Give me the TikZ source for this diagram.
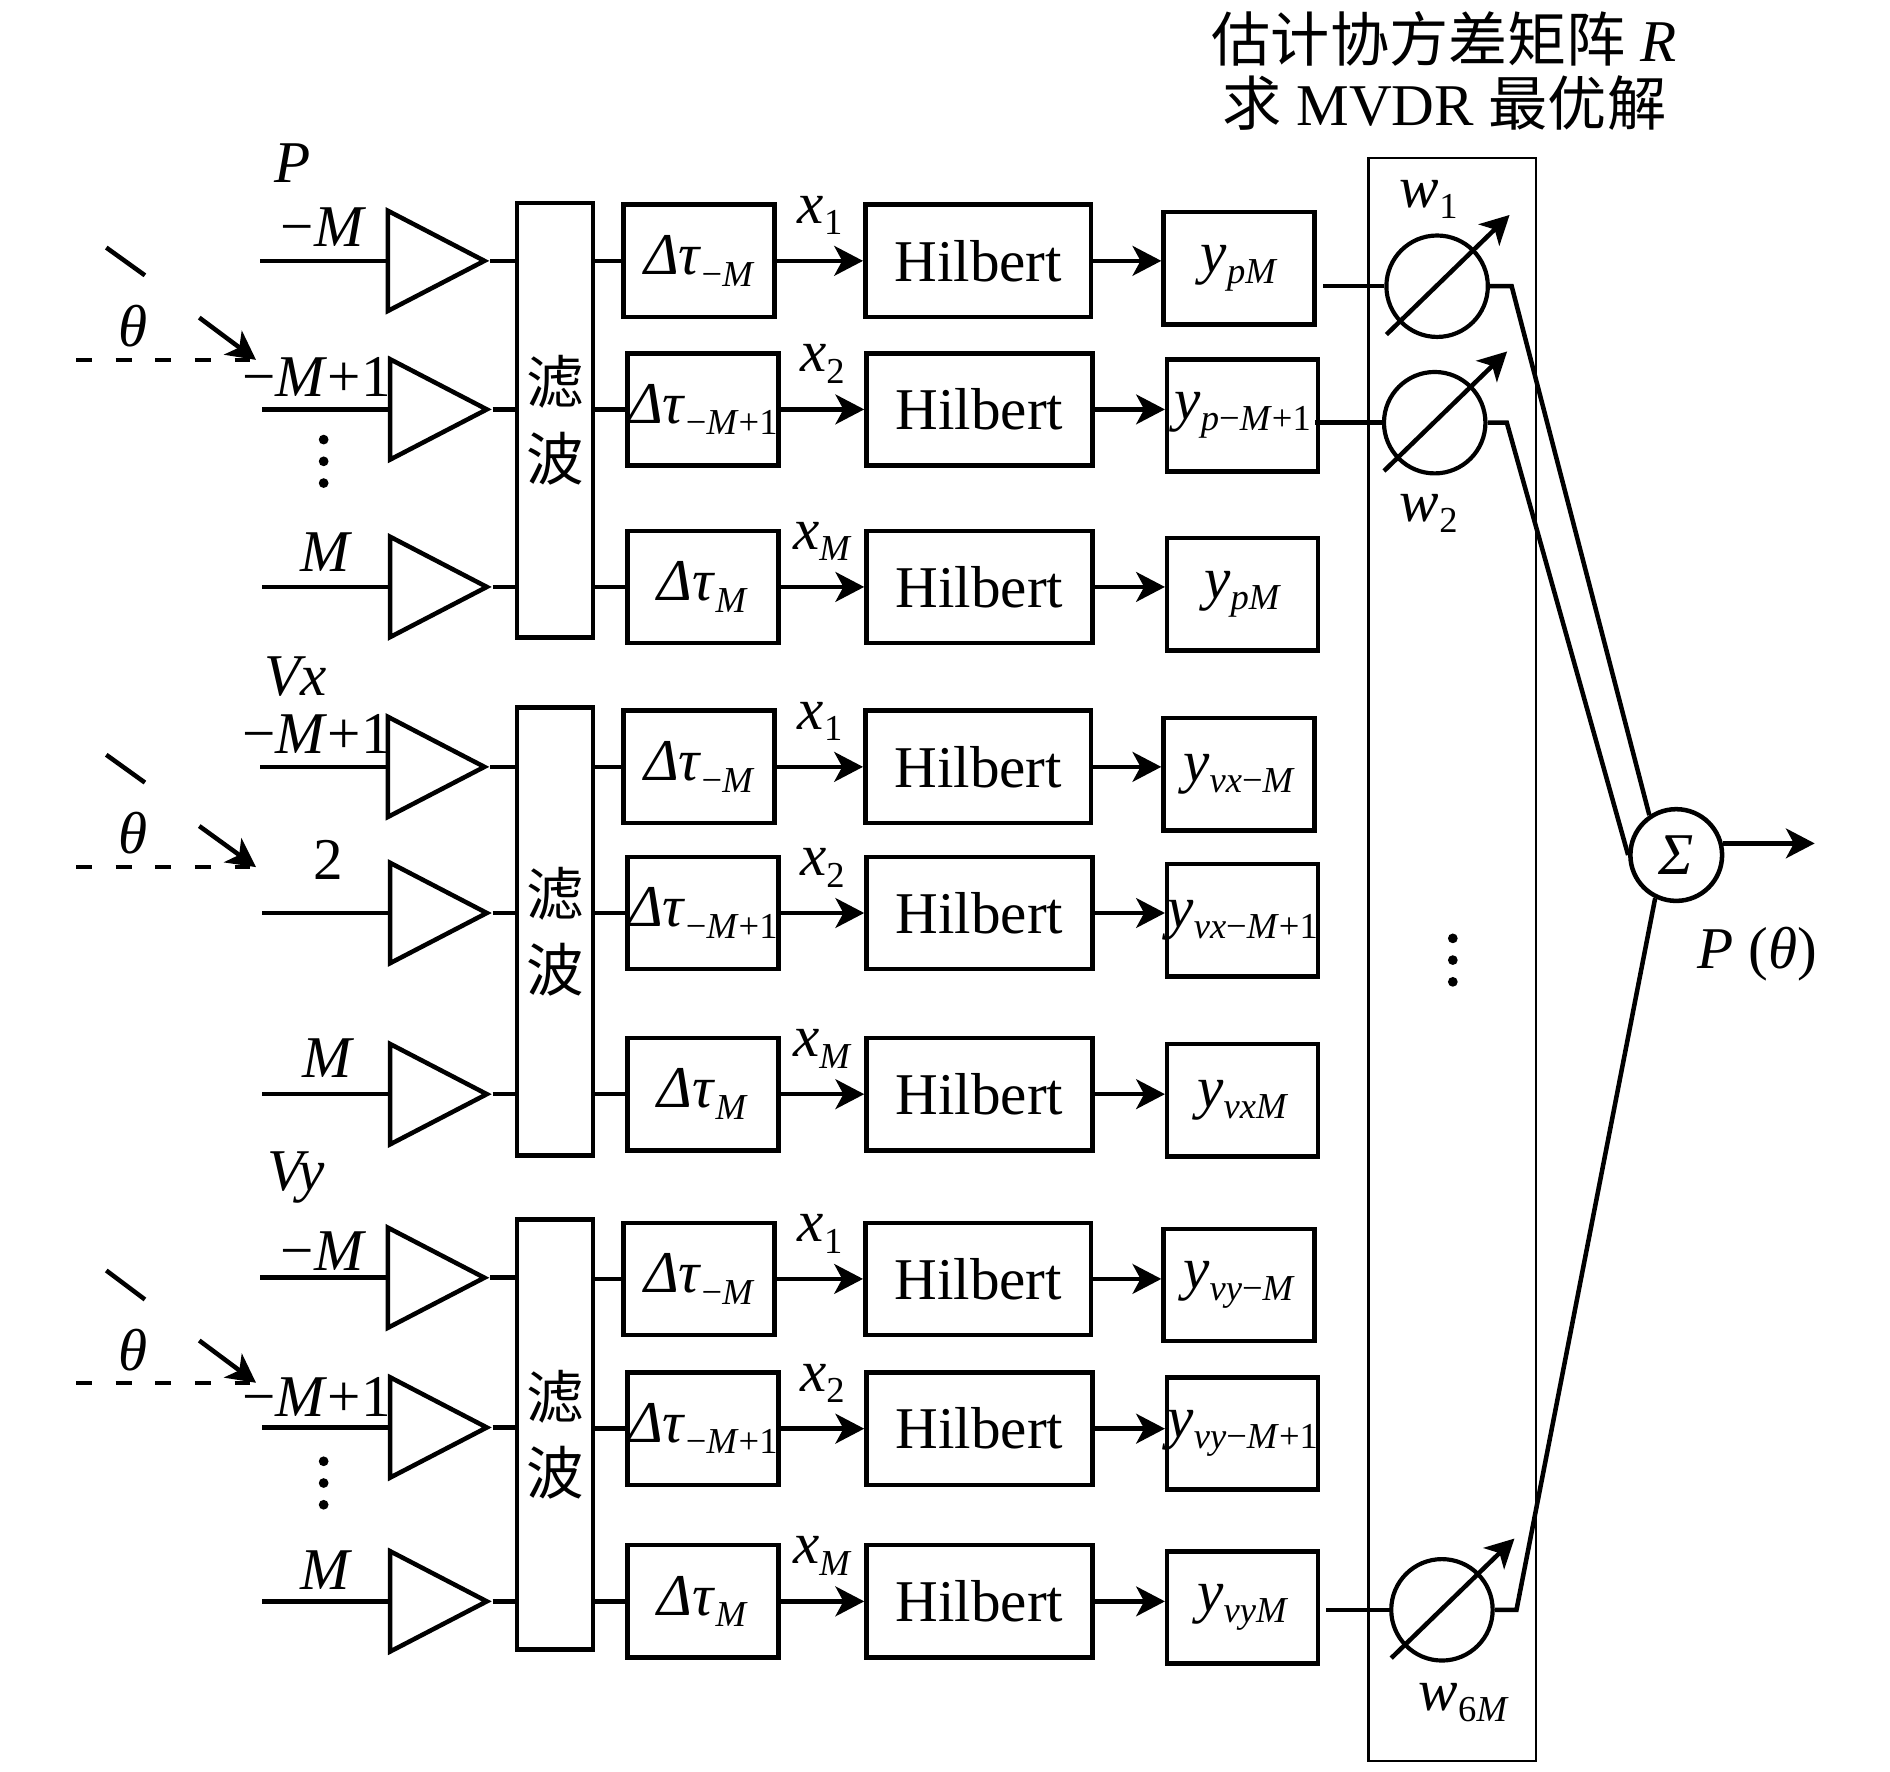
\documentclass[tikz,border=0pt]{standalone}
\usepackage{fontspec}
\setmainfont{Liberation Serif}
\newfontfamily\cjk{Noto Sans CJK SC}
\usepackage{tikz}
\usetikzlibrary{shapes}
\usetikzlibrary{arrows.meta}
\usetikzlibrary{calc}
\newcommand{\ind}[1]{\raisebox{-3.3pt}{\fontsize{10.5}{12}\selectfont #1}}
\tikzstyle{every node}=[font=\fontsize{17}{20}\selectfont]
\tikzstyle{line}=[line width=1.3pt]
\tikzstyle{amp}=[draw,line width=1.3pt,isosceles triangle,isosceles triangle stretches,
        minimum height=0.975cm,minimum width=1.012cm,inner sep=0pt,anchor=apex]
\tikzstyle{filtre}=[draw,line width=1.3pt,rectangle,minimum width=0.768cm,inner sep=0pt,
        font=\cjk\fontsize{16.5}{22}\selectfont,align=center]
\tikzstyle{delai}=[draw,line width=1.3pt,rectangle,minimum width=1.524cm,minimum height=1.134cm,inner sep=0pt]
\tikzstyle{hilb}=[draw,line width=1.3pt,rectangle,minimum width=2.28cm,minimum height=1.134cm,inner sep=0pt]
\tikzstyle{sortie}=[draw,line width=1.3pt,rectangle,minimum width=1.524cm,minimum height=1.134cm,inner sep=0pt]
\tikzstyle{poids}=[draw,line width=1.2pt,circle,minimum size=1.024cm,inner sep=0pt]
\tikzstyle{somme}=[draw,line width=1.3pt,circle,minimum size=0.926cm,inner sep=0pt]
\tikzstyle{suite}=[-{Stealth[length=2.9mm,width=3mm,inset=0.8mm]},line width=1.3pt]
\tikzstyle{pointille}=[line width=1.3pt,dash pattern=on 1.6mm off 2.4mm]

\begin{document}
\begin{tikzpicture}[x=0.01219cm,y=-0.01219cm]
\useasboundingbox (0,0) rectangle (1565,1467);
%Title
\node (t1) at (1196,32) {{\cjk 估计协方差矩阵} \textit{R}};
\node (t2) at (1196,85) {{\cjk 求} MVDR {\cjk 最优解}};
\node[draw,line width=0.75pt,minimum width=1.694cm,minimum height=16.18cm,inner sep=0pt] (est) at (1202.5,794.5) {};
%Group P
\node (lp) at (242,135) {\textit{P}};
\node (lp1) at (268,188) {−\textit{M}};
\node (lp2) at (262,312) {−\textit{M}+1};
\node (lp3) at (270,457) {\textit{M}};
\node (th1) at (110,270) {\textit{θ}};
\node[amp] (ap1) at (406,216) {};
\node[amp] (ap2) at (408,339) {};
\node[amp] (ap3) at (408,486) {};
\node[filtre,minimum height=4.388cm] (fp) at (459.5,348) {滤\\波};
\node[delai] (dp1) at (579,216) {\textit{Δτ}\ind{−\textit{M}}};
\node[delai] (dp2) at (582,339) {\textit{Δτ}\ind{−\textit{M}+1}};
\node[delai] (dp3) at (582,486) {\textit{Δτ}\ind{\textit{M}}};
\node[hilb] (hp1) at (810,216) {Hilbert};
\node[hilb] (hp2) at (811,339) {Hilbert};
\node[hilb] (hp3) at (811,486) {Hilbert};
\node[sortie] (yp1) at (1026,222) {\textit{y}\ind{\textit{pM}}};
\node[sortie] (yp2) at (1029,344) {\textit{y}\ind{\textit{p}−\textit{M}+1}};
\node[sortie] (yp3) at (1029,492) {\textit{y}\ind{\textit{pM}}};
%Group Vx
\node (lx) at (245,560) {\textit{Vx}};
\node (lx1) at (262,608) {−\textit{M}+1};
\node (lx2) at (272,712) {2};
\node (lx3) at (272,876) {\textit{M}};
\node (th2) at (110,690) {\textit{θ}};
\node[amp] (ax1) at (406,635) {};
\node[amp] (ax2) at (408,756) {};
\node[amp] (ax3) at (408,906) {};
\node[filtre,minimum height=4.522cm] (fx) at (459.5,771.5) {滤\\波};
\node[delai] (dx1) at (579,635) {\textit{Δτ}\ind{−\textit{M}}};
\node[delai] (dx2) at (582,756) {\textit{Δτ}\ind{−\textit{M}+1}};
\node[delai] (dx3) at (582,906) {\textit{Δτ}\ind{\textit{M}}};
\node[hilb] (hx1) at (810,635) {Hilbert};
\node[hilb] (hx2) at (811,756) {Hilbert};
\node[hilb] (hx3) at (811,906) {Hilbert};
\node[sortie] (yx1) at (1026,641) {\textit{y}\ind{\textit{vx}−\textit{M}}};
\node[sortie] (yx2) at (1029,762) {\textit{y}\ind{\textit{vx}−\textit{M}+1}};
\node[sortie] (yx3) at (1029,911) {\textit{y}\ind{\textit{vxM}}};
%Group Vy
\node (ly) at (245,975) {\textit{Vy}};
\node (ly1) at (268,1036) {−\textit{M}};
\node (ly2) at (262,1157) {−\textit{M}+1};
\node (ly3) at (270,1300) {\textit{M}};
\node (th3) at (110,1118) {\textit{θ}};
\node[amp] (ay1) at (406,1058) {};
\node[amp] (ay2) at (408,1182) {};
\node[amp] (ay3) at (408,1326) {};
\node[filtre,minimum height=4.34cm] (fy) at (459.5,1188) {滤\\波};
\node[delai] (dy1) at (579,1059) {\textit{Δτ}\ind{−\textit{M}}};
\node[delai] (dy2) at (582,1183) {\textit{Δτ}\ind{−\textit{M}+1}};
\node[delai] (dy3) at (582,1326) {\textit{Δτ}\ind{\textit{M}}};
\node[hilb] (hy1) at (810,1059) {Hilbert};
\node[hilb] (hy2) at (811,1183) {Hilbert};
\node[hilb] (hy3) at (811,1326) {Hilbert};
\node[sortie] (yy1) at (1026,1064) {\textit{y}\ind{\textit{vy}−\textit{M}}};
\node[sortie] (yy2) at (1029,1187) {\textit{y}\ind{\textit{vy}−\textit{M}+1}};
\node[sortie] (yy3) at (1029,1331) {\textit{y}\ind{\textit{vyM}}};
%Weights and sum
\node[poids] (w1) at (1190,237) {};
\node[poids] (w2) at (1188,350) {};
\node[poids] (w6) at (1194,1333) {};
\node (lw1) at (1183,165) {\textit{w}\ind{1}};
\node (lw2) at (1183,425) {\textit{w}\ind{2}};
\node (lw6) at (1212,1410) {\textit{w}\ind{6\textit{M}}};
\node[somme] (sum) at (1388,708) {\textit{Σ}};
\node (out) at (1455,790) {\textit{P} (\textit{θ})};
\fill (268,364) circle (1.4pt) (268,382) circle (1.4pt) (268,400) circle (1.4pt);
\fill (268,1210) circle (1.4pt) (268,1228) circle (1.4pt) (268,1246) circle (1.4pt);
\fill (1203,777) circle (1.4pt) (1203,795) circle (1.4pt) (1203,813) circle (1.4pt);
%Incoming waves
\draw[line] (88,205) -- (120,228);
\draw[suite] (165,263) -- (212,298);
\draw[pointille] (63,298) -- (212,298);
\draw[line] (88,625) -- (120,648);
\draw[suite] (165,684) -- (212,718);
\draw[pointille] (63,718) -- (212,718);
\draw[line] (88,1052) -- (120,1076);
\draw[suite] (165,1110) -- (212,1145);
\draw[pointille] (63,1145) -- (212,1145);
%Drawing Edges
\draw[line] (ap1.west) -- ++(-104,0);
\draw[line] (ap2.west) -- ++(-104,0);
\draw[line] (ap3.west) -- ++(-104,0);
\draw[line] (ax1.west) -- ++(-104,0);
\draw[line] (ax2.west) -- ++(-104,0);
\draw[line] (ax3.west) -- ++(-104,0);
\draw[line] (ay1.west) -- ++(-104,0);
\draw[line] (ay2.west) -- ++(-104,0);
\draw[line] (ay3.west) -- ++(-104,0);
\draw[line] (ap1.apex) -- (ap1.apex -| fp.west);
\draw[line] (ap2.apex) -- (ap2.apex -| fp.west);
\draw[line] (ap3.apex) -- (ap3.apex -| fp.west);
\draw[line] (ax1.apex) -- (ax1.apex -| fx.west);
\draw[line] (ax2.apex) -- (ax2.apex -| fx.west);
\draw[line] (ax3.apex) -- (ax3.apex -| fx.west);
\draw[line] (ay1.apex) -- (ay1.apex -| fy.west);
\draw[line] (ay2.apex) -- (ay2.apex -| fy.west);
\draw[line] (ay3.apex) -- (ay3.apex -| fy.west);
\draw[line] (fp.east |- dp1) -- (dp1);
\draw[line] (fp.east |- dp2) -- (dp2);
\draw[line] (fp.east |- dp3) -- (dp3);
\draw[line] (fx.east |- dx1) -- (dx1);
\draw[line] (fx.east |- dx2) -- (dx2);
\draw[line] (fx.east |- dx3) -- (dx3);
\draw[line] (fy.east |- dy1) -- (dy1);
\draw[line] (fy.east |- dy2) -- (dy2);
\draw[line] (fy.east |- dy3) -- (dy3);
\draw[suite] (dp1) -- (hp1) node[midway,yshift=13pt]{\textit{x}\ind{1}};
\draw[suite] (dp2) -- (hp2) node[midway,yshift=13pt]{\textit{x}\ind{2}};
\draw[suite] (dp3) -- (hp3) node[midway,yshift=13pt]{\textit{x}\ind{\textit{M}}};
\draw[suite] (dx1) -- (hx1) node[midway,yshift=13pt]{\textit{x}\ind{1}};
\draw[suite] (dx2) -- (hx2) node[midway,yshift=13pt]{\textit{x}\ind{2}};
\draw[suite] (dx3) -- (hx3) node[midway,yshift=13pt]{\textit{x}\ind{\textit{M}}};
\draw[suite] (dy1) -- (hy1) node[midway,yshift=13pt]{\textit{x}\ind{1}};
\draw[suite] (dy2) -- (hy2) node[midway,yshift=13pt]{\textit{x}\ind{2}};
\draw[suite] (dy3) -- (hy3) node[midway,yshift=13pt]{\textit{x}\ind{\textit{M}}};
\draw[suite] (hp1.east) -- (hp1.east -| yp1.west);
\draw[suite] (hp2.east) -- (hp2.east -| yp2.west);
\draw[suite] (hp3.east) -- (hp3.east -| yp3.west);
\draw[suite] (hx1.east) -- (hx1.east -| yx1.west);
\draw[suite] (hx2.east) -- (hx2.east -| yx2.west);
\draw[suite] (hx3.east) -- (hx3.east -| yx3.west);
\draw[suite] (hy1.east) -- (hy1.east -| yy1.west);
\draw[suite] (hy2.east) -- (hy2.east -| yy2.west);
\draw[suite] (hy3.east) -- (hy3.east -| yy3.west);
\draw[line] (w1.west) -- ++(-51,0);
\draw[line] (w2.west) -- ++(-55,0);
\draw[line] (w6.west) -- ++(-52,0);
\draw[suite] ($(w1)+(-42,40)$) -- ++(102,-99);
\draw[suite] ($(w2)+(-42,40)$) -- ++(102,-99);
\draw[suite] ($(w6)+(-42,40)$) -- ++(102,-99);
\draw[line] (w1.east) -- ++(18,0) -- (sum.124);
\draw[line] (w2.east) -- ++(16,0) -- (sum.west);
\draw[line] (w6.east) -- ++(18,0) -- (sum.244);
\draw[suite] (sum.14) -- ++(76,0);
\end{tikzpicture}
\end{document}
